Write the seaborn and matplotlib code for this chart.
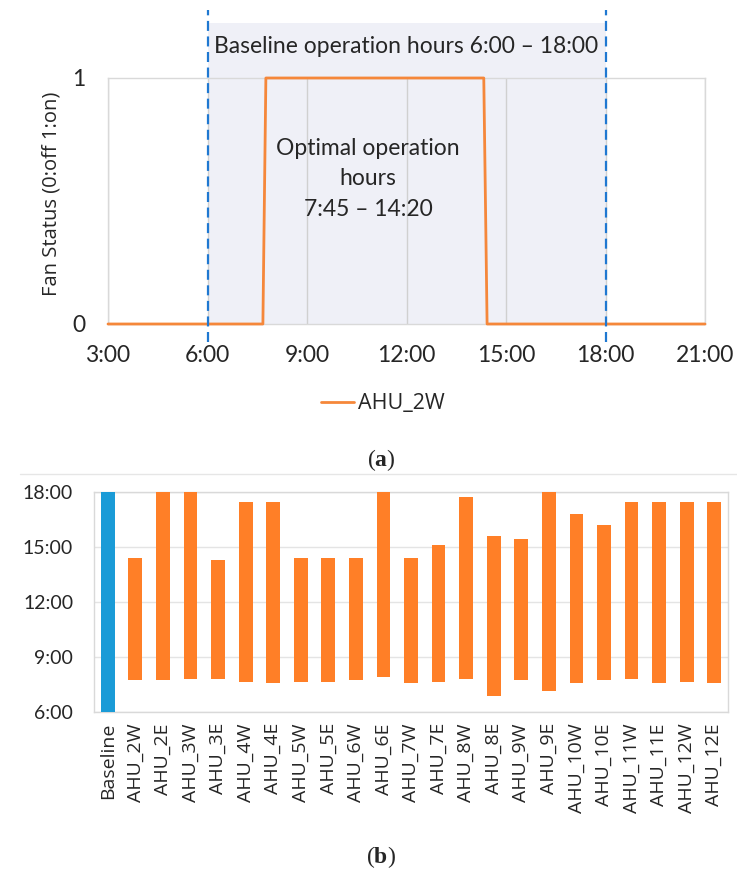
import matplotlib
matplotlib.use("Agg")
import matplotlib.pyplot as plt
from matplotlib.lines import Line2D
from matplotlib.ticker import FuncFormatter
import numpy as np
import seaborn as sns

# (a) fan status of AHU_2W over the day (hours)
status_hours = [3.0, 7.67, 7.76, 14.33, 14.43, 21.0]
status_values = [0, 0, 1, 1, 0, 0]
baseline_window = (6.0, 18.0)

# (b) operation windows per unit (hours)
units = ["Baseline", "AHU_2W", "AHU_2E", "AHU_3W", "AHU_3E", "AHU_4W", "AHU_4E",
         "AHU_5W", "AHU_5E", "AHU_6W", "AHU_6E", "AHU_7W", "AHU_7E", "AHU_8W",
         "AHU_8E", "AHU_9W", "AHU_9E", "AHU_10W", "AHU_10E", "AHU_11W", "AHU_11E",
         "AHU_12W", "AHU_12E"]
start_hours = [6.0, 7.74, 7.74, 7.81, 7.81, 7.65, 7.56, 7.65, 7.65, 7.74, 7.90,
               7.56, 7.65, 7.81, 6.88, 7.74, 7.16, 7.56, 7.74, 7.81, 7.56, 7.65, 7.56]
end_hours = [18.0, 14.37, 18.0, 18.0, 14.28, 17.44, 17.44, 14.37, 14.37, 14.37, 18.0,
             14.37, 15.09, 17.69, 15.60, 15.44, 18.0, 16.78, 16.18, 17.44, 17.44,
             17.44, 17.44]

ORANGE_LINE = "#F5873A"
ORANGE_BAR = "#FF7F27"
BLUE_BAR = "#1A9BD7"
BLUE_DASH = "#1F78D1"
SHADE = "#EFF0F7"
FRAME = "#D9D9D9"

sns.set_theme(style="white")
plt.rcParams["font.family"] = ["Open Sans", "DejaVu Sans"]
plt.rcParams["mathtext.fontset"] = "custom"
plt.rcParams["mathtext.rm"] = "Liberation Serif"
plt.rcParams["mathtext.bf"] = "Liberation Serif:bold"
CAL = ["Lato", "DejaVu Sans"]

W, H = 737, 875
fig = plt.figure(figsize=(W / 100, H / 100), dpi=100)


def px_axes(left, top, right, bottom):
    return fig.add_axes([left / W, 1 - bottom / H, (right - left) / W, (bottom - top) / H])


def panel_tag(letter, y_px):
    fig.text(381 / W, 1 - y_px / H, "(" + rf"$\mathbf{{{letter}}}$" + ")", ha="center",
             va="center", fontsize=17, family="Liberation Serif")


# ---------- (a) ----------
ax = px_axes(108, 78, 705, 324)
ax.set_facecolor("none")
ax.axvspan(*baseline_window, ymin=0, ymax=1.224, color=SHADE, lw=0, zorder=0.2, clip_on=False)
sns.lineplot(x=status_hours, y=status_values, ax=ax, color=ORANGE_LINE, lw=2,
             label="AHU_2W", clip_on=False, zorder=3)
for h in baseline_window:
    ax.axvline(h, ymin=-0.073, ymax=1.276, color=BLUE_DASH, lw=1.6,
               linestyle=(0, (4.5, 2.5)), clip_on=False, zorder=4)
ax.set_xlim(3, 21)
ax.set_ylim(0, 1)
ax.set_xticks(np.arange(3, 22, 3))
ax.xaxis.set_major_formatter(FuncFormatter(lambda v, p: f"{int(v)}:00"))
ax.set_yticks([0, 1])
ax.grid(axis="x", color="#D0D0D0", lw=1)
ax.tick_params(axis="x", length=0, pad=15, labelsize=16.5)
ax.tick_params(axis="y", length=0, pad=16, labelsize=16.5)
for lab in ax.get_xticklabels() + ax.get_yticklabels():
    lab.set_family(CAL)
for s in ax.spines.values():
    s.set_color(FRAME)
    s.set_linewidth(1)
ax.set_xlabel("")
ax.set_ylabel("Fan Status (0:off 1:on)", fontsize=14.5, va="center")
ax.yaxis.set_label_coords(-0.094, 0.53)
ax.text(12, 1.13, "Baseline operation hours 6:00 \u2013 18:00", ha="center", va="center",
        fontsize=16.5, family=CAL)
ax.text(10.84, 0.59, "Optimal operation\nhours\n7:45 \u2013 14:20", ha="center", va="center",
        fontsize=16.5, family=CAL, linespacing=1.55)
handles, labels = ax.get_legend_handles_labels()
ax.get_legend().remove()
fig.legend(handles, labels, loc="center", bbox_to_anchor=(383 / W, 1 - 404 / H),
           frameon=False, fontsize=15.5, handlelength=1.5, handletextpad=0.2)
panel_tag("a", 460)

fig.add_artist(Line2D([20 / W, 1], [1 - 474 / H] * 2, color="#E6E6E6", lw=1))

# ---------- (b) ----------
bx = px_axes(94, 491.7, 728, 712)
durations = [e - s for s, e in zip(start_hours, end_hours)]
sns.barplot(x=units, y=durations, bottom=start_hours, ax=bx, color=ORANGE_BAR,
            width=0.5, saturation=1, edgecolor="none", zorder=3)
bx.patches[0].set_facecolor(BLUE_BAR)
bx.set_ylim(6, 18)
bx.set_yticks(np.arange(6, 19, 3))
bx.yaxis.set_major_formatter(FuncFormatter(lambda v, p: f"{int(v)}:00"))
bx.grid(axis="y", color="#E4E4E4", lw=1)
bx.tick_params(axis="y", length=0, pad=15, labelsize=14)
bx.tick_params(axis="x", length=0, pad=8, labelsize=14, rotation=90)
for lab in bx.get_yticklabels():
    lab.set_family(CAL)
for s in bx.spines.values():
    s.set_color(FRAME)
    s.set_linewidth(1)
bx.set_xlabel("")
bx.set_ylabel("")
panel_tag("b", 857)

fig.savefig("out.png", dpi=100)
